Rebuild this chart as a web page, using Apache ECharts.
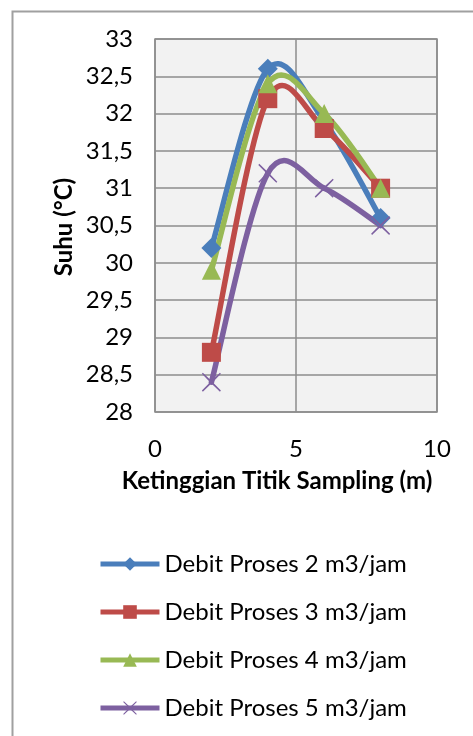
<!DOCTYPE html>
<html><head><meta charset="utf-8">
<script src="https://cdn.jsdelivr.net/npm/echarts@6/dist/echarts.min.js"></script>
<style>html,body{margin:0;padding:0;background:#fff}#c{width:473px;height:736px}</style>
</head><body><div id="c"></div>
<script>
const xValues = [2, 4, 6, 8];
const debit2 = [30.2, 32.6, 31.9, 30.6];
const debit3 = [28.8, 32.2, 31.8, 31.0];
const debit4 = [29.9, 32.4, 32.0, 31.0];
const debit5 = [28.4, 31.2, 31.0, 30.5];
const seriesNames = ['Debit Proses 2 m3/jam','Debit Proses 3 m3/jam','Debit Proses 4 m3/jam','Debit Proses 5 m3/jam'];
const xTitle = 'Ketinggian Titik Sampling (m)';
const yTitle = 'Suhu (°C)';

const FONT = 'Lato, "Open Sans", sans-serif';
const xMark = 'path://M1,0L10,8.6L19,0L20,1.2L11.4,10L20,18.8L19,20L10,11.4L1,20L0,18.8L8.6,10L0,1.2Z';
const colors = ['#4a7ebb','#be4b48','#98b954','#7d60a0'];
const symbols = ['diamond','rect','triangle',xMark];
const sizes = [20,19,19,19];
const data = [debit2, debit3, debit4, debit5];

// smooth curve (Excel-like Catmull-Rom) drawn through the axis scales
function curveRenderer(arr){
  return function(params, api){
    const i = params.dataIndex, n = xValues.length;
    if (i >= n - 1) return null;
    const P = k => { k = Math.max(0, Math.min(n - 1, k)); return api.coord([xValues[k], arr[k]]); };
    const p0 = P(i - 1), p1 = P(i), p2 = P(i + 1), p3 = P(i + 2);
    return {
      type:'bezierCurve',
      shape:{x1:p1[0],y1:p1[1],x2:p2[0],y2:p2[1],
        cpx1:p1[0]+(p2[0]-p0[0])/6, cpy1:p1[1]+(p2[1]-p0[1])/6,
        cpx2:p2[0]-(p3[0]-p1[0])/6, cpy2:p2[1]-(p3[1]-p1[1])/6},
      style:{stroke:api.visual('color'),lineWidth:5.5,fill:null,lineCap:'round'}
    };
  };
}

const series = [];
data.forEach((d,i)=>{
  series.push({
    name:seriesNames[i]+' (kurva)',type:'custom',z:2,
    renderItem:curveRenderer(d),
    itemStyle:{color:colors[i]},
    data:xValues.map((x,j)=>[x,d[j]]),
    encode:{x:0,y:1}
  });
});
data.forEach((d,i)=>{
  series.push({
    name:seriesNames[i],type:'line',z:3,
    data:xValues.map((x,j)=>[x,d[j]]),
    symbol:symbols[i],symbolSize:sizes[i],showSymbol:true,
    lineStyle:{width:5,color:colors[i],opacity:0},
    itemStyle:{color:colors[i]}
  });
});

const chart = echarts.init(document.getElementById('c'));
chart.setOption({
  animation:false,
  color: colors,
  graphic:[
    {type:'rect',left:10,top:9,shape:{width:470,height:740},style:{fill:'none',stroke:'#a0a0a0',lineWidth:2},z:-1},
    {type:'text',x:277,y:481,style:{text:xTitle,font:'bold 24px '+FONT,fill:'#000',align:'center',verticalAlign:'middle'}},
    {type:'text',x:64,y:227,rotation:Math.PI/2,style:{text:yTitle,font:'bold 24px '+FONT,fill:'#000',align:'center',verticalAlign:'middle'}}
  ],
  grid:{left:155,right:36,top:39,bottom:324,show:true,backgroundColor:'#f2f2f2',borderColor:'#8c8c8c',borderWidth:1.5},
  xAxis:{type:'value',min:0,max:10,interval:5,
    axisLine:{show:false},axisTick:{show:false},
    splitLine:{show:true,lineStyle:{color:'#8c8c8c',width:1.5}},
    axisLabel:{fontFamily:FONT,fontSize:24,color:'#000',margin:25}},
  yAxis:{type:'value',min:28,max:33,interval:0.5,
    axisLine:{show:false},axisTick:{show:false},
    splitLine:{show:true,lineStyle:{color:'#8c8c8c',width:1.5}},
    axisLabel:{fontFamily:FONT,fontSize:24,color:'#000',margin:22,formatter:v=>String(v).replace('.',',')}},
  legend:{orient:'vertical',left:93,top:547,itemWidth:59,itemHeight:17,itemGap:24,
    lineStyle:{width:5,opacity:1},
    textStyle:{fontFamily:FONT,fontSize:24,color:'#000',lineHeight:24},
    data:seriesNames},
  series: series
});
</script></body></html>
